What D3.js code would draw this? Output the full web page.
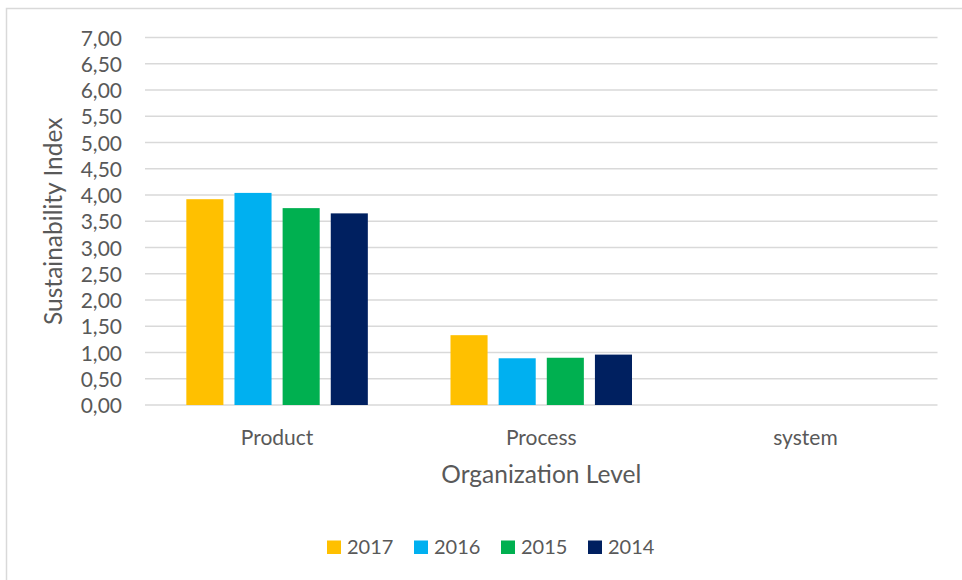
<!DOCTYPE html>
<html>
<head>
<meta charset="utf-8">
<script src="https://cdn.jsdelivr.net/npm/d3@7"></script>
<style>
  html, body { margin: 0; padding: 0; background: #fff; }
  svg { display: block; font-family: Lato, "Open Sans", sans-serif; }
</style>
</head>
<body>
<svg id="chart" width="962" height="580"></svg>
<script>
// Organization levels on the category axis
const categories = ["Product", "Process", "system"];
// One series per year
const years = ["2017", "2016", "2015", "2014"];
const values2017 = [3.92, 1.33, 0];
const values2016 = [4.04, 0.89, 0];
const values2015 = [3.75, 0.90, 0];
const values2014 = [3.65, 0.96, 0];
const yTicks = [0, 0.5, 1, 1.5, 2, 2.5, 3, 3.5, 4, 4.5, 5, 5.5, 6, 6.5, 7];
const colors = ["#FFC000", "#00B0F0", "#00B050", "#002060"];

const seriesValues = [values2017, values2016, values2015, values2014];
const rows = categories.map((c, i) => ({
  category: c,
  values: years.map((yr, k) => ({ year: yr, value: seriesValues[k][i] }))
}));

const svg = d3.select("#chart");
const plotLeft = 145, plotRight = 937.5, plotTop = 37.5, plotBottom = 405;
const textColor = "#595959";

// Outer frame
svg.append("rect")
  .attr("x", 6.5).attr("y", 8.5)
  .attr("width", 1000).attr("height", 1000)
  .attr("fill", "none").attr("stroke", "#d9d9d9").attr("stroke-width", 1.5);

const y = d3.scaleLinear().domain([0, 7]).range([plotBottom, plotTop]);
const x0 = d3.scaleBand().domain(categories).range([plotLeft, plotRight]).paddingInner(0).paddingOuter(0);
const groupWidth = 181.5;
const x1 = d3.scaleBand().domain(years).range([0, groupWidth]).paddingInner(0.23).paddingOuter(0);

// Gridlines
svg.append("g")
  .selectAll("line").data(yTicks).join("line")
  .attr("x1", plotLeft).attr("x2", plotRight)
  .attr("y1", d => y(d)).attr("y2", d => y(d))
  .attr("stroke", "#d9d9d9").attr("stroke-width", 1.3);

// Y axis labels
const fmt = d => d.toFixed(2).replace(".", ",");
const yAxis = d3.axisLeft(y).tickValues(yTicks).tickFormat(fmt).tickSize(0).tickPadding(23);
const gy = svg.append("g").attr("transform", `translate(${plotLeft},0)`).call(yAxis);
gy.select(".domain").remove();
gy.selectAll("text").attr("fill", textColor).style("font-size", "21px")
  .style("font-family", "Lato, 'Open Sans', sans-serif").attr("dy", "0.36em");

// Bars
const groups = svg.append("g").selectAll("g").data(rows).join("g")
  .attr("transform", d => `translate(${x0(d.category) + (x0.bandwidth() - groupWidth) / 2},0)`);
groups.selectAll("rect").data(d => d.values).join("rect")
  .attr("x", d => x1(d.year))
  .attr("width", x1.bandwidth())
  .attr("y", d => y(d.value))
  .attr("height", d => plotBottom - y(d.value))
  .attr("fill", (d, i) => colors[i]);

// Category labels
const xAxis = d3.axisBottom(x0).tickSize(0);
const gx = svg.append("g").attr("transform", `translate(0,${plotBottom})`).call(xAxis);
gx.select(".domain").remove();
gx.selectAll("text").attr("y", 40).attr("dy", 0)
  .attr("fill", textColor).style("font-size", "21px")
  .style("font-family", "Lato, 'Open Sans', sans-serif");

// Axis titles
svg.append("text")
  .attr("x", (plotLeft + plotRight) / 2).attr("y", 483)
  .attr("text-anchor", "middle").attr("fill", textColor)
  .style("font-size", "24.5px").text("Organization Level");
svg.append("text")
  .attr("transform", `translate(62,${(plotTop + plotBottom) / 2}) rotate(-90)`)
  .attr("text-anchor", "middle").attr("fill", textColor)
  .style("font-size", "24.5px").text("Sustainability Index");

// Legend
const legendX = [327, 414, 501, 588];
const legend = svg.append("g").selectAll("g").data(years).join("g")
  .attr("transform", (d, i) => `translate(${legendX[i]},540.5)`);
legend.append("rect").attr("width", 14).attr("height", 13.5).attr("fill", (d, i) => colors[i]);
legend.append("text").attr("x", 20).attr("y", 13)
  .attr("fill", textColor).style("font-size", "20px").text(d => d);
</script>
</body>
</html>
